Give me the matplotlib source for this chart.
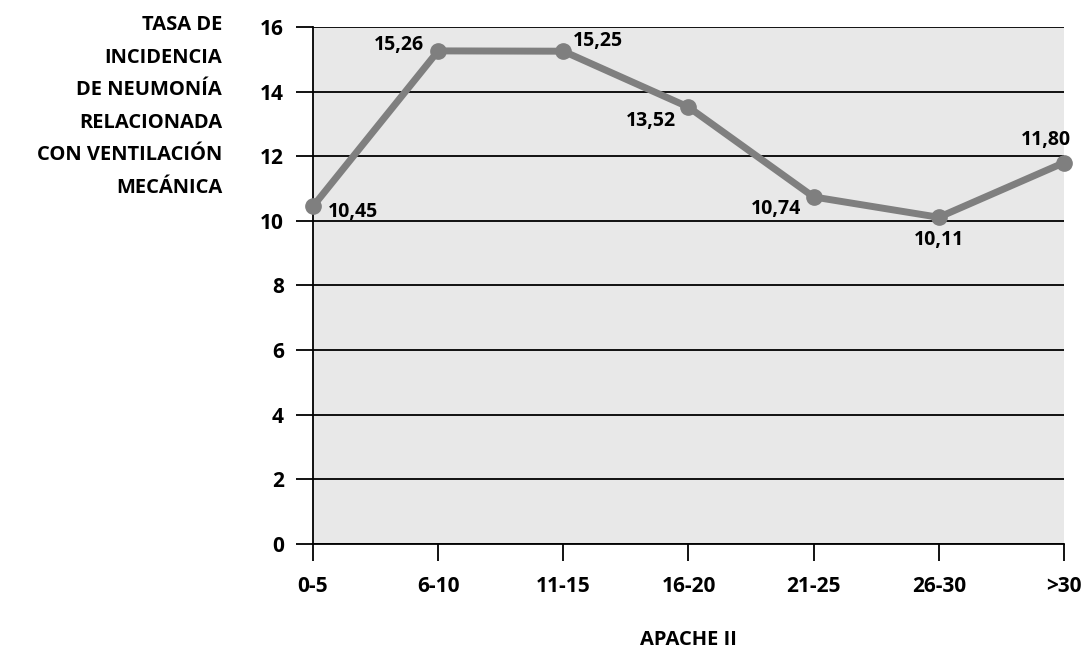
import numpy as np
import matplotlib.pyplot as plt

plt.rcParams['font.family'] = ['Open Sans', 'DejaVu Sans']
plt.rcParams['font.weight'] = 'bold'

categories = ['0-5', '6-10', '11-15', '16-20', '21-25', '26-30', '>30']
values = [10.45, 15.26, 15.25, 13.52, 10.74, 10.11, 11.80]
labels = ['10,45', '15,26', '15,25', '13,52', '10,74', '10,11', '11,80']
# label offsets in points (dx, dy) and alignment
offsets = [(11, -4, 'left', 'center'), (-10, 4, 'right', 'center'),
           (7, 7, 'left', 'center'), (-9, -10, 'right', 'center'),
           (-9, -9, 'right', 'center'), (0, -16, 'center', 'center'),
           (5, 16, 'right', 'center')]

fig = plt.figure(figsize=(10.85, 6.5), dpi=100)
ax = fig.add_axes([0.2885, 0.1631, 0.9806 - 0.2885, 0.9585 - 0.1631])
ax.set_facecolor('#e8e8e8')

x = np.arange(len(categories))
ax.plot(x, values, color='#7f7f7f', lw=5, marker='o', ms=11, clip_on=False, zorder=3)

for xi, v, lab, (dx, dy, ha, va) in zip(x, values, labels, offsets):
    ax.annotate(lab, (xi, v), xytext=(dx, dy), textcoords='offset points',
                ha=ha, va=va, fontsize=14, fontweight='bold', zorder=4)

ax.set_xlim(0, 6)
ax.set_ylim(0, 16)
ax.set_xticks(x)
ax.set_xticklabels(categories)
ax.set_yticks(np.arange(0, 17, 2))
ax.yaxis.grid(True, color='black', lw=1.3)
ax.set_axisbelow(True)
for s in ['top', 'right']:
    ax.spines[s].set_visible(False)
ax.spines['left'].set_linewidth(1.3)
ax.spines['bottom'].set_linewidth(1.3)
ax.tick_params(axis='both', length=12, width=1.3, labelsize=15, pad=9)
ax.tick_params(axis='x', pad=11)
for t in ax.get_xticklabels() + ax.get_yticklabels():
    t.set_fontweight('bold')

fig.text(688 / 1085, 1 - 640 / 650, 'APACHE II', ha='center', va='center',
         fontsize=14.5, fontweight='bold')
fig.text(222 / 1085, 1 - 15 / 650,
         'TASA DE\nINCIDENCIA\nDE NEUMONÍA\nRELACIONADA\nCON VENTILACIÓN\nMECÁNICA',
         ha='right', va='top', fontsize=14.5, fontweight='bold', linespacing=1.84)

plt.savefig('out.png', dpi=100)
